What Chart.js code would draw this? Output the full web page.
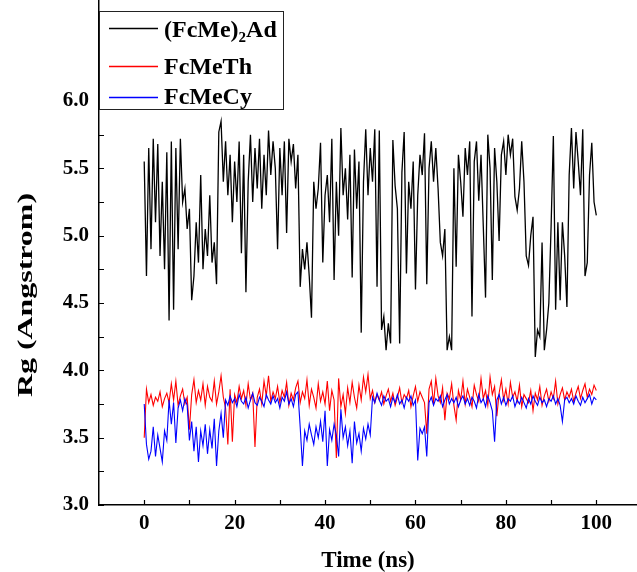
<!DOCTYPE html>
<html>
<head>
<meta charset="utf-8">
<script src="https://cdn.jsdelivr.net/npm/chart.js@4.4.0/dist/chart.umd.min.js"></script>
<style>
  html, body { margin: 0; padding: 0; background: #fff; }
  #wrap { width: 637px; height: 572px; }
</style>
</head>
<body>
<div id="wrap"><canvas id="rgChart" width="637" height="572"></canvas></div>
<script>
// sampling interval of the trajectories (ns)
const timeStep = 0.5;

// Rg values, one every 0.5 ns from 0 to 100 ns
const fcme2ad = [
  5.55, 4.70, 5.65, 4.90, 5.72, 5.10, 5.68, 4.85, 5.40, 4.75,
  5.62, 4.37, 5.70, 4.45, 5.65, 4.90, 5.72, 5.25, 5.35, 5.05,
  5.20, 4.52, 4.70, 5.10, 4.80, 5.45, 4.75, 5.05, 4.85, 5.30,
  4.80, 4.95, 4.64, 5.77, 5.85, 5.40, 5.70, 5.30, 5.60, 5.10,
  5.55, 5.25, 5.70, 4.87, 5.60, 4.58, 5.40, 5.75, 5.25, 5.65,
  5.35, 5.72, 5.20, 5.60, 5.30, 5.78, 5.45, 5.70, 5.50, 4.90,
  5.65, 5.30, 5.70, 5.02, 5.72, 5.55, 5.68, 5.35, 5.60, 4.62,
  4.90, 4.75, 4.95, 4.70, 4.39, 5.40, 5.20, 5.35, 5.69, 4.80,
  5.30, 5.45, 5.10, 5.72, 4.67, 5.40, 5.00, 5.80, 5.30, 5.50,
  5.12, 5.60, 4.69, 5.64, 5.20, 5.55, 4.28, 5.40, 5.79, 5.30,
  5.65, 5.40, 5.79, 4.62, 5.78, 4.30, 4.40, 4.15, 4.35, 4.20,
  5.71, 5.37, 5.20, 4.20, 5.47, 5.77, 4.72, 5.40, 5.20, 5.55,
  4.60, 5.30, 5.60, 5.45, 5.76, 4.64, 5.50, 5.70, 5.40, 5.65,
  5.35, 4.95, 4.85, 5.05, 4.15, 4.25, 4.15, 5.50, 4.77, 5.60,
  5.40, 5.14, 5.65, 5.45, 5.70, 4.40, 5.55, 5.70, 5.26, 5.60,
  5.07, 4.54, 5.75, 5.50, 4.67, 5.65, 5.40, 4.96, 5.60, 5.70,
  5.45, 5.75, 5.60, 5.72, 5.29, 5.19, 5.35, 5.70, 5.40, 4.85,
  4.78, 5.00, 5.14, 4.10, 4.30, 4.25, 4.95, 4.15, 4.30, 4.50,
  5.07, 5.74, 4.45, 5.10, 4.52, 5.10, 4.85, 4.47, 5.45, 5.80,
  5.35, 5.77, 5.55, 5.30, 5.79, 4.70, 4.80, 5.45, 5.69, 5.25,
  5.15
];

const fcmeth = [
  3.50, 3.86, 3.76, 3.82, 3.74, 3.80, 3.77, 3.84, 3.73, 3.79,
  3.83, 3.76, 3.90, 3.78, 3.92, 3.74, 3.81, 3.86, 3.75, 3.80,
  3.56, 3.82, 3.93, 3.76, 3.85, 3.78, 3.90, 3.74, 3.88, 3.80,
  3.77, 3.92, 3.75, 3.84, 3.96, 3.80, 3.72, 3.45, 3.86, 3.47,
  3.82, 3.76, 3.88, 3.79, 3.85, 3.74, 3.90, 3.78, 3.83, 3.43,
  3.80, 3.86, 3.75, 3.92, 3.81, 3.96, 3.77, 3.84, 3.79, 3.88,
  3.76, 3.85, 3.80, 3.91, 3.74, 3.83, 3.78, 3.87, 3.92, 3.76,
  3.84, 3.79, 3.93, 3.74, 3.86, 3.80, 3.72, 3.90, 3.77, 3.84,
  3.75, 3.92, 3.70, 3.85, 3.78, 3.35, 3.94, 3.73, 3.82, 3.68,
  3.87, 3.76, 3.91, 3.80, 3.72, 3.89, 3.78, 3.95, 3.84, 3.97,
  3.79, 3.85, 3.76, 3.82, 3.78, 3.84, 3.75, 3.81, 3.86, 3.77,
  3.83, 3.74, 3.80, 3.87, 3.76, 3.82, 3.79, 3.85, 3.73, 3.81,
  3.88, 3.77, 3.84, 3.80, 3.76, 3.53, 3.86, 3.92, 3.75, 3.94,
  3.81, 3.76, 3.87, 3.63, 3.83, 3.79, 3.90, 3.74, 3.63, 3.85,
  3.78, 3.92, 3.75, 3.86, 3.80, 3.73, 3.89, 3.82, 3.77, 3.94,
  3.79, 3.85, 3.74, 3.95, 3.82, 3.88, 3.66, 3.83, 3.93, 3.78,
  3.86, 3.75, 3.91, 3.80, 3.84, 3.77, 3.89, 3.73, 3.82, 3.79,
  3.76, 3.85, 3.70, 3.83, 3.78, 3.88, 3.74, 3.81, 3.86, 3.77,
  3.84, 3.79, 3.92, 3.75, 3.82, 3.87, 3.78, 3.84, 3.80, 3.86,
  3.77, 3.83, 3.88, 3.79, 3.85, 3.90, 3.80, 3.86, 3.82, 3.89,
  3.85
];

const fcmecy = [
  3.75, 3.45, 3.34, 3.40, 3.58, 3.36, 3.52, 3.42, 3.32, 3.55,
  3.48, 3.78, 3.60, 3.76, 3.46, 3.72, 3.78, 3.70, 3.79, 3.74,
  3.48, 3.62, 3.40, 3.58, 3.32, 3.55, 3.44, 3.60, 3.38, 3.56,
  3.42, 3.64, 3.29, 3.55, 3.68, 3.50, 3.78, 3.74, 3.81, 3.76,
  3.79, 3.73, 3.82, 3.77, 3.75, 3.80, 3.72, 3.78, 3.83, 3.76,
  3.74, 3.80, 3.77, 3.73, 3.82, 3.78, 3.75, 3.81, 3.76, 3.79,
  3.72, 3.80, 3.77, 3.84, 3.75, 3.79, 3.73, 3.82, 3.84, 3.58,
  3.29, 3.55, 3.48, 3.60, 3.52, 3.45, 3.58, 3.50, 3.62, 3.47,
  3.70, 3.29, 3.56, 3.48, 3.60, 3.52, 3.36, 3.71, 3.50, 3.58,
  3.44, 3.55, 3.31, 3.62, 3.46, 3.53, 3.40, 3.57, 3.49, 3.60,
  3.52, 3.80, 3.76, 3.83, 3.78, 3.74, 3.81, 3.77, 3.79, 3.73,
  3.80, 3.76, 3.82, 3.75, 3.78, 3.72, 3.80, 3.77, 3.81, 3.74,
  3.78, 3.33, 3.57, 3.53, 3.58, 3.36, 3.76, 3.80, 3.74, 3.79,
  3.77, 3.81, 3.73, 3.78, 3.82, 3.75, 3.79, 3.76, 3.80, 3.73,
  3.78, 3.81, 3.75, 3.79, 3.74, 3.80, 3.77, 3.72, 3.82, 3.76,
  3.79, 3.73, 3.81, 3.76, 3.70, 3.47, 3.78, 3.82, 3.75, 3.80,
  3.74, 3.79, 3.77, 3.81, 3.73, 3.78, 3.75, 3.80, 3.76, 3.72,
  3.79, 3.75, 3.81, 3.77, 3.74, 3.80, 3.76, 3.78, 3.73, 3.79,
  3.77, 3.81, 3.75, 3.79, 3.74, 3.62, 3.78, 3.80, 3.76, 3.79,
  3.75, 3.81, 3.77, 3.74, 3.80, 3.76, 3.79, 3.82, 3.75, 3.80,
  3.78
];

const seriesNames = ['(FcMe)', 'FcMeTh', 'FcMeCy'];
const xTickLabels = [0, 20, 40, 60, 80, 100];
const yTickLabels = [3.0, 3.5, 4.0, 4.5, 5.0, 5.5, 6.0];
const xMinorTicks = [0, 10, 20, 30, 40, 50, 60, 70, 80, 90, 100];
const yMinorTicks = [3.0, 3.25, 3.5, 3.75, 4.0, 4.25, 4.5, 4.75, 5.0, 5.25, 5.5, 5.75, 6.0, 6.25, 6.5];

const colors = ['#000000', '#ff0000', '#0000ff'];
const serif = '"Liberation Serif", "Times New Roman", serif';

function toPoints(arr) {
  return arr.map((v, i) => ({ x: i * timeStep, y: v }));
}

// ticks pointing inwards, legend box with subscript, axis titles
const extras = {
  id: 'extras',
  afterDraw(chart) {
    const ctx = chart.ctx;
    const xs = chart.scales.x, ys = chart.scales.y;
    const area = chart.chartArea;
    ctx.save();
    ctx.strokeStyle = '#000';
    ctx.lineWidth = 1.2;
    ctx.beginPath();
    yMinorTicks.forEach(v => {
      const py = Math.round(ys.getPixelForValue(v)) + 0.5;
      ctx.moveTo(area.left, py);
      ctx.lineTo(area.left + 5, py);
    });
    xMinorTicks.forEach(v => {
      const px = Math.round(xs.getPixelForValue(v)) + 0.5;
      ctx.moveTo(px, area.bottom);
      ctx.lineTo(px, area.bottom - 5);
    });
    ctx.stroke();

    // legend box
    ctx.fillStyle = '#fff';
    ctx.fillRect(99, 11, 184, 98);
    ctx.strokeStyle = '#222';
    ctx.lineWidth = 1;
    ctx.strokeRect(99.5, 11.5, 184, 98);

    const rowY = [28, 66, 97];
    for (let i = 0; i < 3; i++) {
      ctx.beginPath();
      ctx.strokeStyle = colors[i];
      ctx.lineWidth = 1.3;
      ctx.moveTo(109, rowY[i] + 0.5);
      ctx.lineTo(158, rowY[i] + 0.5);
      ctx.stroke();
    }
    ctx.fillStyle = '#000';
    ctx.textAlign = 'left';
    ctx.textBaseline = 'alphabetic';
    ctx.font = 'bold 24px ' + serif;
    let tx = 164;
    ctx.fillText(seriesNames[0], tx, 37);
    tx += ctx.measureText(seriesNames[0]).width;
    ctx.font = 'bold 15px ' + serif;
    ctx.fillText('2', tx, 42);
    tx += ctx.measureText('2').width;
    ctx.font = 'bold 24px ' + serif;
    ctx.fillText('Ad', tx, 37);
    ctx.fillText(seriesNames[1], 164, 74);
    ctx.fillText(seriesNames[2], 164, 104);

    // axis titles
    ctx.font = 'bold 23px ' + serif;
    ctx.textAlign = 'center';
    ctx.textBaseline = 'middle';
    ctx.fillText('Time (ns)', (area.left + area.right) / 2, 561);
    ctx.translate(27, 295);
    ctx.rotate(-Math.PI / 2);
    ctx.font = 'bold 21px ' + serif;
    const w = ctx.measureText('Rg (Angstrom)').width;
    ctx.scale(204 / w, 1);
    ctx.fillText('Rg (Angstrom)', 0, 0);
    ctx.restore();
  }
};

new Chart(document.getElementById('rgChart'), {
  type: 'line',
  data: {
    datasets: [
      { label: 'FcMeCy', data: toPoints(fcmecy), borderColor: colors[2], borderWidth: 1.1, order: 0 },
      { label: 'FcMeTh', data: toPoints(fcmeth), borderColor: colors[1], borderWidth: 1.1, order: 1 },
      { label: '(FcMe)2Ad', data: toPoints(fcme2ad), borderColor: colors[0], borderWidth: 1.3, order: 2 }
    ]
  },
  options: {
    responsive: false,
    animation: false,
    layout: { padding: 0 },
    elements: {
      line: { tension: 0 },
      point: { radius: 0 }
    },
    plugins: {
      legend: { display: false },
      tooltip: { enabled: false }
    },
    scales: {
      x: {
        type: 'linear',
        min: -10,
        max: 109,
        grid: { display: false, drawTicks: false, tickLength: 0 },
        border: { color: '#000', width: 1.5 },
        afterBuildTicks: s => { s.ticks = xTickLabels.map(v => ({ value: v })); },
        ticks: {
          autoSkip: false,
          maxRotation: 0,
          padding: 6,
          color: '#000',
          font: { family: serif, weight: 'bold', size: 21 },
          callback: v => String(v)
        },
        afterFit: s => { s.height = 67; s.paddingLeft = 0; s.paddingRight = 0; }
      },
      y: {
        min: 3,
        max: 6.75,
        grid: { display: false, drawTicks: false, tickLength: 0 },
        border: { color: '#000', width: 1.5 },
        afterBuildTicks: s => { s.ticks = yTickLabels.map(v => ({ value: v })); },
        ticks: {
          autoSkip: false,
          padding: 10,
          color: '#000',
          font: { family: serif, weight: 'bold', size: 21 },
          callback: v => v.toFixed(1)
        },
        afterFit: s => { s.width = 99; s.paddingTop = 0; s.paddingBottom = 0; }
      }
    }
  },
  plugins: [extras]
});
</script>
</body>
</html>
